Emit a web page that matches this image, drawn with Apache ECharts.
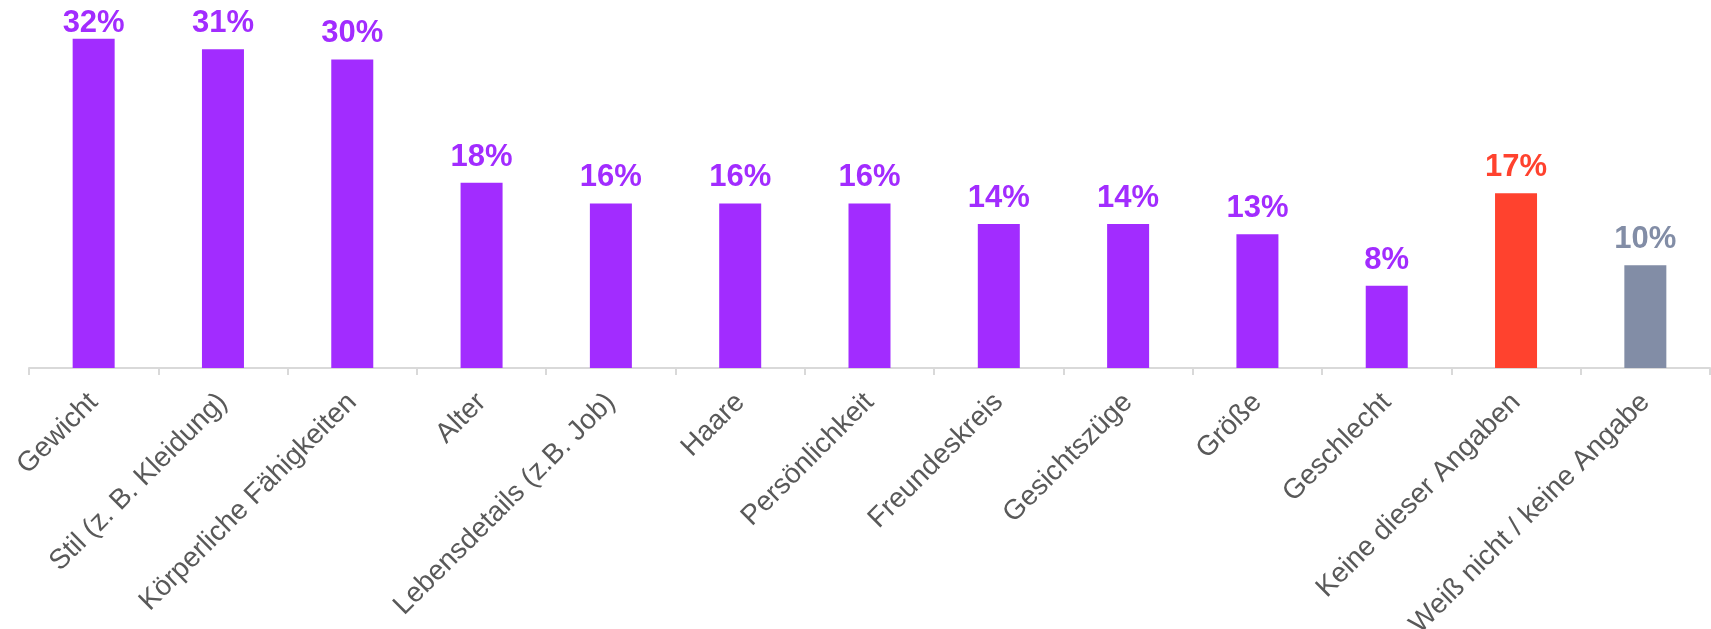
<!DOCTYPE html>
<html>
<head>
<meta charset="utf-8">
<script src="https://cdn.jsdelivr.net/npm/echarts@6/dist/echarts.min.js"></script>
<style>
  html, body { margin: 0; padding: 0; background: #ffffff; }
  #chart { width: 1711px; height: 629px; }
</style>
</head>
<body>
<div id="chart"></div>
<script>
// Categories along the x axis
const categories = [
  'Gewicht',
  'Stil (z. B. Kleidung)',
  'Körperliche Fähigkeiten',
  'Alter',
  'Lebensdetails (z.B. Job)',
  'Haare',
  'Persönlichkeit',
  'Freundeskreis',
  'Gesichtszüge',
  'Größe',
  'Geschlecht',
  'Keine dieser Angaben',
  'Weiß nicht / keine Angabe'
];

// Share of respondents, in percent
const values = [32, 31, 30, 18, 16, 16, 16, 14, 14, 13, 8, 17, 10];

// Bar colour per category group
const colorMain = '#a22cff';
const colorNone = '#ff422e';
const colorUnknown = '#828da6';
const barColors = [
  colorMain, colorMain, colorMain, colorMain, colorMain, colorMain, colorMain,
  colorMain, colorMain, colorMain, colorMain, colorNone, colorUnknown
];

// Value labels never rise above this y (keeps them inside the canvas)
const LABEL_MIN_TOP = 8;

const chart = echarts.init(document.getElementById('chart'), null, { renderer: 'canvas' });

chart.setOption({
  animation: false,
  backgroundColor: '#ffffff',
  grid: {
    left: 29, right: 1, top: 8, bottom: 261,
    containLabel: false,
    outerBoundsMode: 'none'
  },
  xAxis: {
    type: 'category',
    data: categories,
    boundaryGap: true,
    axisLine: { show: true, lineStyle: { color: '#d9d9d9', width: 2 } },
    axisTick: { show: true, alignWithLabel: false, length: 7, lineStyle: { color: '#d9d9d9', width: 2 } },
    axisLabel: {
      interval: 0,
      rotate: 45,
      margin: 30,
      color: '#595959',
      fontFamily: 'Liberation Sans, Arial, sans-serif',
      fontSize: 28
    }
  },
  yAxis: {
    type: 'value',
    min: 0,
    max: 35,
    show: false,
    splitLine: { show: false }
  },
  series: [{
    type: 'bar',
    data: values.map((v, i) => ({
      value: v,
      itemStyle: { color: barColors[i] },
      label: { color: barColors[i] }
    })),
    barWidth: 42,
    label: {
      show: true,
      position: 'top',
      distance: 10,
      formatter: '{c}%',
      fontFamily: 'Liberation Sans, Arial, sans-serif',
      fontWeight: 'bold',
      fontSize: 31
    },
    labelLayout: function (params) {
      const r = params.labelRect;
      return { dy: Math.max(0, LABEL_MIN_TOP - r.y) };
    }
  }]
});
</script>
</body>
</html>
